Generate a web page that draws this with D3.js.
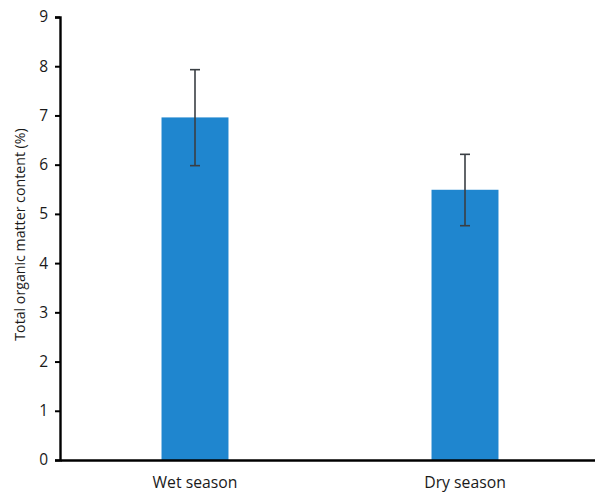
<!DOCTYPE html>
<html>
<head>
<meta charset="utf-8">
<script src="https://cdn.jsdelivr.net/npm/d3@7"></script>
<style>
  html, body { margin: 0; padding: 0; background: #fff; }
  svg { display: block; font-family: "Open Sans", "Noto Sans", sans-serif; }
</style>
</head>
<body>
<div id="chart"></div>
<script>
// Seasonal total organic matter content, mean with error range
const seasons = ["Wet season", "Dry season"];
const meanValues = [6.96, 5.49];
const errorLow = [5.98, 4.76];
const errorHigh = [7.93, 6.21];
const yTicks = [0, 1, 2, 3, 4, 5, 6, 7, 8, 9];
const yTitle = "Total organic matter content (%)";

const width = 595, height = 493;
const margin = { left: 60, right: -5, top: 17, bottom: 33 };

const svg = d3.select("#chart").append("svg")
  .attr("width", width).attr("height", height);

const x = d3.scaleBand()
  .domain(seasons)
  .range([margin.left, width - margin.right])
  .paddingInner(0.752)
  .paddingOuter(0.376);

const y = d3.scaleLinear()
  .domain([0, 9])
  .range([height - margin.bottom, margin.top]);

// Bars
svg.selectAll("rect.bar")
  .data(seasons)
  .join("rect")
  .attr("class", "bar")
  .attr("x", d => x(d))
  .attr("width", x.bandwidth())
  .attr("y", (d, i) => y(meanValues[i]))
  .attr("height", (d, i) => y(0) - y(meanValues[i]))
  .attr("fill", "#1f86cf");

// Error bars
const err = svg.append("g").attr("stroke", "#3a3f44").attr("stroke-width", 1.6);
seasons.forEach((s, i) => {
  const cx = x(s) + x.bandwidth() / 2;
  err.append("line").attr("x1", cx).attr("x2", cx)
    .attr("y1", y(errorLow[i])).attr("y2", y(errorHigh[i]));
  [errorLow[i], errorHigh[i]].forEach(v => {
    err.append("line").attr("x1", cx - 5).attr("x2", cx + 5)
      .attr("y1", y(v)).attr("y2", y(v));
  });
});

// Y axis
const yAxis = svg.append("g")
  .attr("transform", `translate(${margin.left},0)`)
  .call(d3.axisLeft(y).tickValues(yTicks).tickSize(5).tickPadding(7).tickFormat(d3.format("d")));
yAxis.select(".domain").attr("stroke", "#000").attr("stroke-width", 2.4);
yAxis.selectAll(".tick line").attr("stroke", "#000").attr("stroke-width", 2);
yAxis.selectAll(".tick text").attr("font-size", 15.5).attr("fill", "#1a1a1a")
  .attr("font-family", "'Open Sans', sans-serif");

// X axis
const xAxis = svg.append("g")
  .attr("transform", `translate(0,${y(0)})`)
  .call(d3.axisBottom(x).tickSize(0).tickPadding(17));
xAxis.select(".domain").attr("stroke", "#000").attr("stroke-width", 2.4);
xAxis.selectAll(".tick text").attr("font-size", 15.75).attr("fill", "#1a1a1a")
  .attr("font-family", "'Open Sans', sans-serif");

// Y axis title
svg.append("text")
  .attr("transform", `translate(25,${(y(0) + y(9)) / 2 - 4}) rotate(-90)`)
  .attr("text-anchor", "middle")
  .attr("font-size", 14.2)
  .attr("fill", "#1a1a1a")
  .text(yTitle);
</script>
</body>
</html>
